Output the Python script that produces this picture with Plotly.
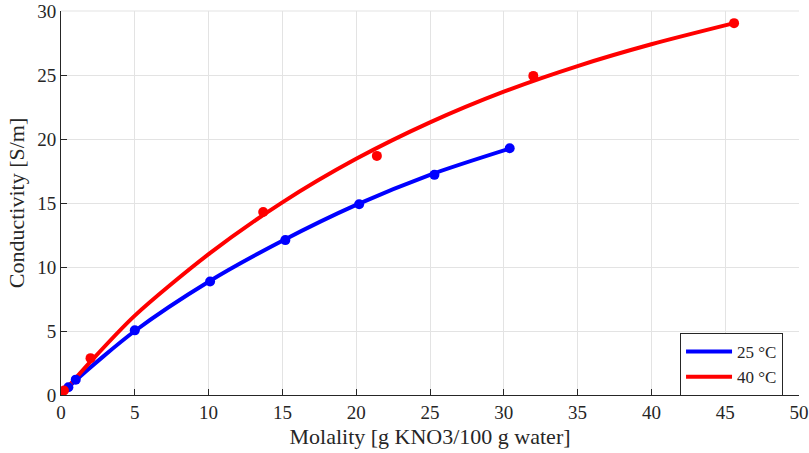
import plotly.graph_objects as go

# measured data points
x25 = [0, 0.5, 1.0, 5.0, 10.1, 15.2, 20.2, 25.3, 30.4]
y25 = [0, 0.6, 1.2, 5.05, 8.87, 12.1, 14.9, 17.2, 19.28]
x40 = [0, 0.2, 2.0, 13.7, 21.4, 32.0, 45.6]
y40 = [0, 0.35, 2.88, 14.3, 18.68, 24.93, 29.05]

# fitted curves
fx25 = [0, 1, 5, 10, 15, 20, 25, 30.4]
fy25 = [0, 1.15, 5.0, 8.85, 12.05, 14.85, 17.2, 19.25]
fx40 = [0, 2, 5, 10, 15, 20, 25, 30, 35, 40, 45.6]
fy40 = [0, 2.6, 6.2, 11.0, 15.05, 18.45, 21.3, 23.7, 25.7, 27.4, 29.05]

labels = ["25\u00a0°C", "40\u00a0°C"]
xticks = list(range(0, 51, 5))
yticks = list(range(0, 31, 5))

FONT = "Liberation Serif"
AX = "#262626"
fig = go.Figure()
fig.add_trace(go.Scatter(x=fx25, y=fy25, mode="lines", name=labels[0],
                         line=dict(color="#0000ff", width=4, shape="spline", smoothing=0.8)))
fig.add_trace(go.Scatter(x=fx40, y=fy40, mode="lines", name=labels[1],
                         line=dict(color="#ff0000", width=4, shape="spline", smoothing=0.8)))
fig.add_trace(go.Scatter(x=x25, y=y25, mode="markers", showlegend=False,
                         marker=dict(color="#0000ff", size=10)))
fig.add_trace(go.Scatter(x=x40, y=y40, mode="markers", showlegend=False,
                         marker=dict(color="#ff0000", size=10)))

axis_common = dict(showgrid=True, gridcolor="#e3e3e3", gridwidth=1, zeroline=False,
                   showline=True, linecolor=AX, linewidth=1, ticks="inside", automargin=False,
                   ticklen=6, tickcolor=AX, tickfont=dict(family=FONT, size=19, color=AX))
fig.update_layout(
    width=809, height=453,
    margin=dict(l=61, r=10, t=11, b=58),
    plot_bgcolor="white", paper_bgcolor="white",
    font=dict(family=FONT, size=18, color=AX),
    xaxis=dict(range=[0, 50], tickvals=xticks,
               title=dict(text="Molality [g KNO3/100 g water]", font=dict(family=FONT, size=22, color=AX), standoff=6),
               **axis_common),
    yaxis=dict(range=[0, 30], tickvals=yticks,
               title=dict(text="Conductivity [S/m]", font=dict(family=FONT, size=22, color=AX), standoff=6),
               **axis_common),
    legend=dict(x=0.8388, y=0.1615, xanchor="left", yanchor="top",
                bgcolor="white", bordercolor=AX, borderwidth=1,
                font=dict(family=FONT, size=17, color=AX),
                tracegroupgap=0, itemwidth=46),
    showlegend=True,
)
fig.add_shape(type="line", xref="paper", yref="paper", x0=0, x1=1, y0=1, y1=1,
              line=dict(color="#e3e3e3", width=1), layer="below")
fig.write_html("out.html")
